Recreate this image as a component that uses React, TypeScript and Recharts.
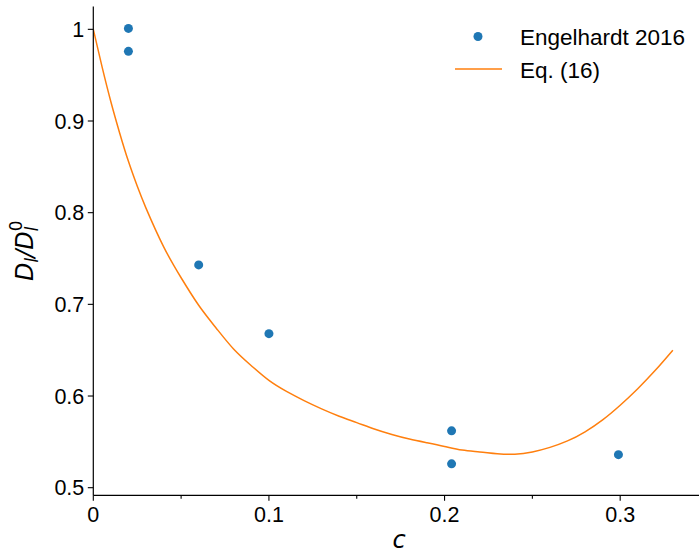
import { ComposedChart, Line, Scatter, XAxis, YAxis } from "recharts";

// Engelhardt 2016 measurements
const expC = [0.02, 0.02, 0.06, 0.1, 0.204, 0.204, 0.299];
const expD = [1.001, 0.976, 0.743, 0.668, 0.562, 0.526, 0.536];

// Eq. (16) curve
const curveC = [
  0, 0.005, 0.01, 0.015, 0.02, 0.025, 0.03, 0.04, 0.05, 0.06, 0.07, 0.08, 0.09, 0.1, 0.11, 0.12,
  0.13, 0.14, 0.15, 0.16, 0.17, 0.18, 0.19, 0.2, 0.21, 0.22, 0.23, 0.24, 0.25, 0.26, 0.27, 0.28,
  0.29, 0.3, 0.31, 0.32, 0.33,
];
const curveD = [
  1.0, 0.959, 0.921, 0.887, 0.856, 0.829, 0.805, 0.763, 0.729, 0.699, 0.674, 0.651, 0.633, 0.617,
  0.605, 0.595, 0.586, 0.578, 0.571, 0.564, 0.558, 0.553, 0.549, 0.545, 0.541, 0.539, 0.537, 0.5365,
  0.539, 0.544, 0.551, 0.561, 0.574, 0.59, 0.608, 0.628, 0.65,
];

const xTicks = [0, 0.05, 0.1, 0.15, 0.2, 0.25, 0.3];
const yTicks = [0.5, 0.6, 0.7, 0.8, 0.9, 1];

const expData = expC.map((c, i) => ({ c, v: expD[i] }));
const curveData = curveC.map((c, i) => ({ c, v: curveD[i] }));

const BLUE = "#1f77b4";
const ORANGE = "#ff7f0e";
const SANS = "'Liberation Sans', Arial, Helvetica, sans-serif";
const MATH = "'DejaVu Sans', sans-serif";

const XTick = (props: any) => {
  const { x, y, payload } = props;
  const v = payload.value;
  const major = Math.round(v * 100) % 10 === 0;
  return (
    <g>
      <line x1={x} x2={x} y1={y} y2={y + (major ? 5.5 : 3.5)} stroke="#000" strokeWidth={1.1} />
      {major && (
        <text x={x} y={y + 27} textAnchor="middle" fontFamily={SANS} fontSize={21.5} fill="#000">
          {v === 0 ? "0" : v.toFixed(1)}
        </text>
      )}
    </g>
  );
};

const YTick = (props: any) => {
  const { x, y, payload } = props;
  const v = payload.value;
  return (
    <g>
      <line x1={x - 5.5} x2={x} y1={y} y2={y} stroke="#000" strokeWidth={1.1} />
      <text x={x - 9} y={y + 7.7} textAnchor="end" fontFamily={SANS} fontSize={21.5} fill="#000">
        {v === 1 ? "1" : v.toFixed(1)}
      </text>
    </g>
  );
};

export default function App() {
  return (
    <div style={{ position: "absolute", left: 0, top: 0, width: 699, height: 552, overflow: "hidden", background: "#fff" }}>
      <ComposedChart width={760} height={552} margin={{ top: 6.5, right: 52, bottom: 0, left: 0 }}>
        <XAxis
          xAxisId="top"
          orientation="top"
          type="number"
          dataKey="c"
          domain={[0, 0.35]}
          height={0}
          tick={false}
          tickLine={false}
          axisLine={{ stroke: "#000", strokeWidth: 1.2 }}
          allowDataOverflow
        />
        <XAxis
          type="number"
          dataKey="c"
          domain={[0, 0.35]}
          ticks={xTicks}
          interval={0}
          height={56.7}
          tickSize={0}
          tickMargin={0}
          tick={<XTick />}
          tickLine={false}
          axisLine={{ stroke: "#000", strokeWidth: 1.2 }}
          allowDataOverflow
        />
        <YAxis
          type="number"
          dataKey="v"
          domain={[0.4917, 1.0249]}
          ticks={yTicks}
          interval={0}
          width={93.3}
          tickSize={0}
          tickMargin={0}
          tick={<YTick />}
          tickLine={false}
          axisLine={{ stroke: "#000", strokeWidth: 1.2 }}
          allowDataOverflow
        />
        <Line
          data={curveData}
          dataKey="v"
          type="natural"
          stroke={ORANGE}
          strokeWidth={1.5}
          dot={false}
          activeDot={false}
          isAnimationActive={false}
        />
        <Scatter data={expData} dataKey="v" fill={BLUE} isAnimationActive={false} shape={(p: any) => <circle cx={p.cx} cy={p.cy} r={4.5} fill={BLUE} />} />
      </ComposedChart>

      <svg width={699} height={552} style={{ position: "absolute", left: 0, top: 0, pointerEvents: "none" }}>
        {/* legend */}
        <circle cx={478} cy={36.5} r={4.5} fill={BLUE} />
        <text x={520} y={45} fontFamily={SANS} fontSize={22.5} fill="#000">Engelhardt 2016</text>
        <line x1={455} x2={502} y1={69} y2={69} stroke={ORANGE} strokeWidth={1.5} />
        <text x={520} y={77.5} fontFamily={SANS} fontSize={22.5} fill="#000">Eq. (16)</text>

        {/* x label */}
        <text x={399} y={548} textAnchor="middle" fontFamily={MATH} fontStyle="italic" fontSize={24} fill="#000">c</text>

        {/* y label: D_l / D_l^0 */}
        <g transform="translate(33,251) rotate(-90)" fontFamily={MATH} fontStyle="italic" fill="#000">
          <text x={-30} y={0} fontSize={24}>D</text>
          <text x={-11.5} y={5} fontSize={16.8}>l</text>
          <text x={-6.8} y={0} fontSize={24}>/</text>
          <text x={1.3} y={0} fontSize={24}>D</text>
          <text x={19.8} y={5} fontSize={16.8}>l</text>
          <text x={19.8} y={-11} fontSize={16.8} fontStyle="normal">0</text>
        </g>
      </svg>
    </div>
  );
}
